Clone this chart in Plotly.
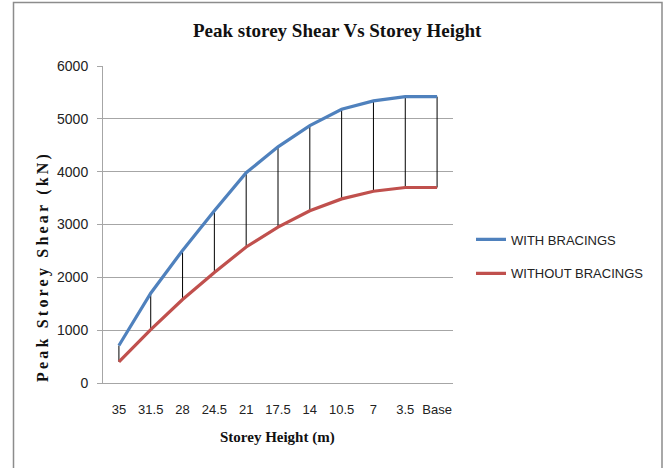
import plotly.graph_objects as go

storey_height = ["35", "31.5", "28", "24.5", "21", "17.5", "14", "10.5", "7", "3.5", "Base"]
with_bracings = [710, 1700, 2510, 3260, 3980, 4470, 4870, 5180, 5340, 5420, 5420]
without_bracings = [400, 1010, 1580, 2090, 2575, 2950, 3260, 3485, 3630, 3700, 3700]

BLUE = "#4F81BD"
RED = "#C0504D"
GRID = "#A6A6A6"
TXT = "#222222"

# high-low (drop) lines between the two series
hx, hy = [], []
for c, a, b in zip(storey_height, with_bracings, without_bracings):
    hx += [c, c, None]
    hy += [a, b, None]

fig = go.Figure()
fig.add_trace(go.Scatter(x=hx, y=hy, mode="lines", line=dict(color="black", width=1),
                         showlegend=False, hoverinfo="skip"))
fig.add_trace(go.Scatter(x=storey_height, y=with_bracings, mode="lines", name="WITH BRACINGS",
                         line=dict(color=BLUE, width=3.2), legendgroup="a"))
fig.add_trace(go.Scatter(x=storey_height, y=without_bracings, mode="lines", name="WITHOUT BRACINGS",
                         line=dict(color=RED, width=3.2), legendgroup="b"))

L, R, T, B = 103, 666 - 453, 66, 468 - 383
PW, PH = 666 - L - R, 468 - T - B

def px_x(px):
    return (px - L) / PW

def px_y(py):
    return (468 - B - py) / PH

fig.update_layout(
    width=666, height=468,
    margin=dict(l=L, r=R, t=T, b=B, pad=0),
    paper_bgcolor="white", plot_bgcolor="white",
    font=dict(family="Liberation Sans, Arial, sans-serif", color=TXT),
    xaxis=dict(type="category", range=[-0.5, len(storey_height) - 0.5],
               showgrid=False, showline=True, linecolor=GRID, linewidth=1,
               ticks="", tickfont=dict(size=13, color=TXT), ticklabelstandoff=14,
               fixedrange=True),
    yaxis=dict(range=[0, 6000], dtick=1000, showgrid=True, gridcolor=GRID, gridwidth=1,
               showline=True, linecolor=GRID, linewidth=1, ticks="outside", ticklen=5,
               tickcolor=GRID, tickfont=dict(size=14, color=TXT), ticklabelstandoff=6,
               zeroline=False, fixedrange=True),
    showlegend=True,
    legend=dict(x=px_x(471), xanchor="left", y=px_y(256.5), yanchor="middle",
                font=dict(size=13, color=TXT), tracegroupgap=14,
                bgcolor="rgba(0,0,0,0)", borderwidth=0),
    annotations=[
        dict(text="<b>Peak storey Shear Vs Storey Height</b>", xref="paper", yref="paper",
             x=px_x(337), y=px_y(30), xanchor="center", yanchor="middle", showarrow=False,
             font=dict(family="Liberation Serif, Times New Roman, serif", size=19, color="#111")),
        dict(text="<b>Storey Height (m)</b>", xref="paper", yref="paper",
             x=px_x(277), y=px_y(437), xanchor="center", yanchor="middle", showarrow=False,
             font=dict(family="Liberation Serif, Times New Roman, serif", size=15, color="#111")),
        dict(text="<b><span style='letter-spacing:3.2px'>Peak Storey Shear (kN)</span></b>",
             xref="paper", yref="paper",
             x=px_x(43), y=px_y(267), xanchor="center", yanchor="middle", showarrow=False,
             textangle=-90,
             font=dict(family="Liberation Serif, Times New Roman, serif", size=16, color="#111")),
    ],
    shapes=[
        dict(type="rect", xref="paper", yref="paper",
             x0=px_x(13.5), x1=px_x(662), y0=px_y(480), y1=px_y(2.5),
             line=dict(color="#8C8C8C", width=1.5), fillcolor="rgba(0,0,0,0)", layer="below"),
    ],
)

fig.write_html("out.html")
